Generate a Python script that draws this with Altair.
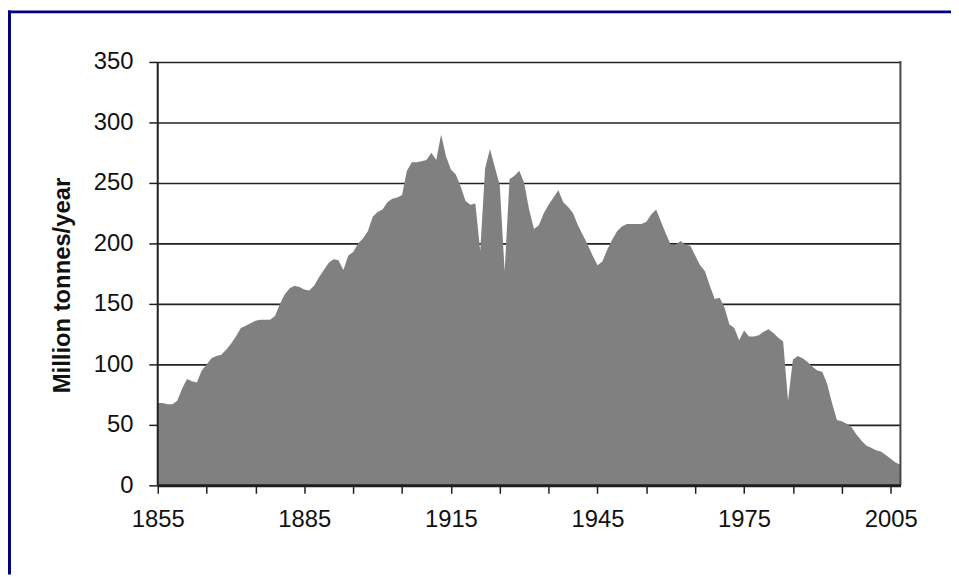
import altair as alt
import pandas as pd

# Years (categories) and production values (million tonnes/year)
years = list(range(1855, 2008))
production = [
    68, 68, 67, 67, 70, 80, 88, 86, 85, 95,          # 1855-1864
    100, 105, 107, 108, 112, 117, 123, 130, 132, 134,  # 1865-1874
    136, 137, 137, 137, 140, 150, 158, 163, 165, 164,  # 1875-1884
    162, 161, 165, 172, 178, 184, 187, 186, 178, 190,  # 1885-1894
    193, 200, 204, 210, 222, 226, 228, 234, 237, 238,  # 1895-1904
    240, 260, 267, 267, 268, 269, 275, 269, 290, 272,  # 1905-1914
    261, 257, 247, 235, 232, 233, 194, 262, 278, 263,  # 1915-1924
    248, 177, 253, 256, 260, 250, 228, 212, 215, 225,  # 1925-1934
    232, 238, 244, 234, 230, 225, 215, 207, 199, 190,  # 1935-1944
    182, 185, 195, 203, 210, 214, 216, 216, 216, 216,  # 1945-1954
    218, 224, 228, 218, 208, 199, 199, 202, 199, 198,  # 1955-1964
    190, 182, 177, 165, 154, 155, 147, 133, 130, 120,  # 1965-1974
    128, 123, 123, 124, 127, 129, 126, 122, 119, 70,   # 1975-1984
    104, 107, 105, 102, 98, 95, 94, 84, 68, 54,        # 1985-1994
    53, 51, 48, 42, 37, 33, 31, 29, 28, 25,            # 1995-2004
    22, 19, 17,                                        # 2005-2007
]
y_ticks = [0, 50, 100, 150, 200, 250, 300, 350]
x_ticks = list(range(1855, 2006, 10))

df = pd.DataFrame({"year": years, "value": production})

W, H = 749, 427
FONT = "Liberation Sans"

area = alt.Chart(df).mark_area(color="#808080", interpolate="linear", opacity=1).encode(
    x=alt.X(
        "year:Q",
        scale=alt.Scale(domain=[1855, 2007], nice=False, zero=False),
        axis=alt.Axis(
            values=x_ticks,
            format="d",
            labelExpr="(datum.value - 1855) % 30 === 0 ? datum.label : ''",
            labelFlush=False,
            labelOverlap=False,
            grid=False,
            title=None,
            domainColor="#1e1e1e",
            domainWidth=3,
            tickColor="#1e1e1e",
            tickWidth=1.5,
            tickSize=8,
            labelPadding=14,
            labelFont=FONT,
            labelFontSize=24,
            labelColor="#111111",
            zindex=1,
        ),
    ),
    y=alt.Y(
        "value:Q",
        scale=alt.Scale(domain=[0, 350], nice=False),
        axis=alt.Axis(
            values=y_ticks,
            grid=True,
            gridColor="#222222",
            gridWidth=1.6,
            domain=False,
            tickColor="#1e1e1e",
            tickWidth=1.5,
            tickSize=9,
            labelPadding=16,
            labelFont=FONT,
            labelFontSize=24,
            labelColor="#111111",
            title="Million tonnes/year",
            titleFont=FONT,
            titleFontSize=24,
            titleFontWeight="bold",
            titleColor="#111111",
            titleX=-96,
            titleY=225,
            titleAngle=-90,
            titleAlign="center",
            titleBaseline="middle",
        ),
    ),
)

one = pd.DataFrame({"a": [0]})

left_axis = alt.Chart(one).mark_rule(color="#1e1e1e", strokeWidth=2).encode(
    x=alt.value(0), y=alt.value(0), y2=alt.value(H)
)
right_border = alt.Chart(one).mark_rule(color="#444444", strokeWidth=2).encode(
    x=alt.value(W), y=alt.value(-1), y2=alt.value(H)
)
frame_left = alt.Chart(one).mark_rule(color="#000080", strokeWidth=3).encode(
    x=alt.value(-149.5), y=alt.value(-52), y2=alt.value(H + 90)
)
frame_top = alt.Chart(one).mark_rule(color="#000080", strokeWidth=3).encode(
    x=alt.value(-151), x2=alt.value(W + 51), y=alt.value(-50.5)
)

chart = alt.layer(area, left_axis, right_border, frame_left, frame_top).properties(
    width=W,
    height=H,
    autosize=alt.AutoSizeParams(type="none"),
    padding={"left": 151, "top": 52, "right": 51, "bottom": 90},
    background="white",
).configure_view(strokeWidth=0)

chart.save("out.html", embed_options={"renderer": "svg", "actions": False})
